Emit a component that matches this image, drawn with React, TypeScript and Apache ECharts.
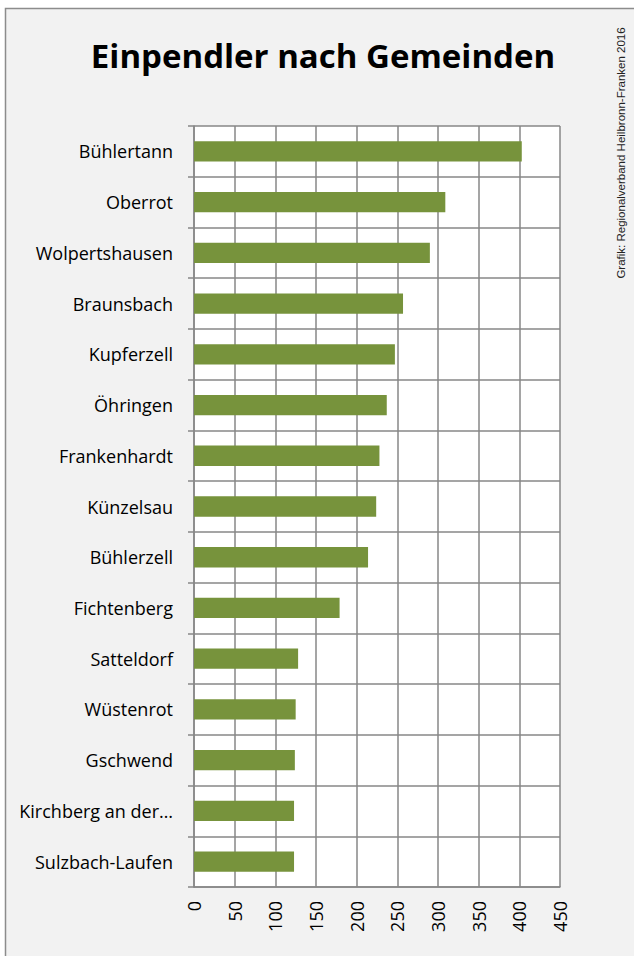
import React, { useEffect, useRef } from "react";
import * as echarts from "echarts";

const categories = [
  "Bühlertann",
  "Oberrot",
  "Wolpertshausen",
  "Braunsbach",
  "Kupferzell",
  "Öhringen",
  "Frankenhardt",
  "Künzelsau",
  "Bühlerzell",
  "Fichtenberg",
  "Satteldorf",
  "Wüstenrot",
  "Gschwend",
  "Kirchberg an der…",
  "Sulzbach-Laufen",
];
const values = [403, 309, 290, 257, 247, 237, 228, 224, 214, 179, 128, 125, 124, 123, 123];
const xTicks = [0, 50, 100, 150, 200, 250, 300, 350, 400, 450];

const titleText = "Einpendler nach Gemeinden";
const sourceText = "Grafik: Regionalverband Heilbronn-Franken 2016";

export default function App() {
  const ref = useRef<HTMLDivElement>(null);
  useEffect(() => {
    if (!ref.current) return;
    const chart = echarts.init(ref.current, undefined, { renderer: "svg" });
    const gridColor = "#878787";
    const font = "'Open Sans', 'Noto Sans', sans-serif";
    chart.setOption({
      animation: false,
      backgroundColor: "#ffffff",
      graphic: [
        {
          type: "rect",
          shape: { x: 5.5, y: 8.5, width: 640, height: 960 },
          style: { fill: "#f2f2f2", stroke: "#8c8c8c", lineWidth: 1.5 },
          z: -10,
        },
        {
          type: "text",
          x: 323,
          y: 55,
          style: {
            text: titleText,
            font: `bold 33px ${font}`,
            fill: "#000",
            align: "center",
            verticalAlign: "middle",
          },
        },
        {
          type: "text",
          x: 621,
          y: 153,
          rotation: Math.PI / 2,
          style: {
            text: sourceText,
            font: "11.5px 'Liberation Sans', Arial, sans-serif",
            fill: "#222",
            align: "center",
            verticalAlign: "middle",
          },
        },
      ],
      grid: {
        left: 194,
        top: 126,
        width: 366,
        height: 761,
        show: true,
        backgroundColor: "#ffffff",
        borderWidth: 0,
      },
      xAxis: {
        type: "value",
        min: xTicks[0],
        max: xTicks[xTicks.length - 1],
        interval: xTicks[1] - xTicks[0],
        axisLine: { show: true, lineStyle: { color: gridColor, width: 1.5 } },
        axisTick: { show: false },
        splitLine: { show: true, lineStyle: { color: gridColor, width: 1.5 } },
        axisLabel: {
          rotate: 90,
          margin: 14,
          fontSize: 18,
          fontFamily: font,
          color: "#000",
        },
      },
      yAxis: {
        type: "category",
        inverse: true,
        data: categories,
        axisLine: { show: true, lineStyle: { color: gridColor, width: 1.5 } },
        axisTick: { show: true, length: 6, lineStyle: { color: gridColor, width: 1.5 } },
        splitLine: { show: true, lineStyle: { color: gridColor, width: 1.5 } },
        axisLabel: {
          margin: 21,
          fontSize: 18,
          fontFamily: font,
          color: "#000",
        },
      },
      series: [
        {
          type: "bar",
          data: values,
          barWidth: "40%",
          itemStyle: { color: "#77933c" },
        },
      ],
    });
    return () => chart.dispose();
  }, []);
  return (
    <div
      ref={ref}
      style={{ position: "absolute", left: 0, top: 0, width: 634, height: 956 }}
    />
  );
}
